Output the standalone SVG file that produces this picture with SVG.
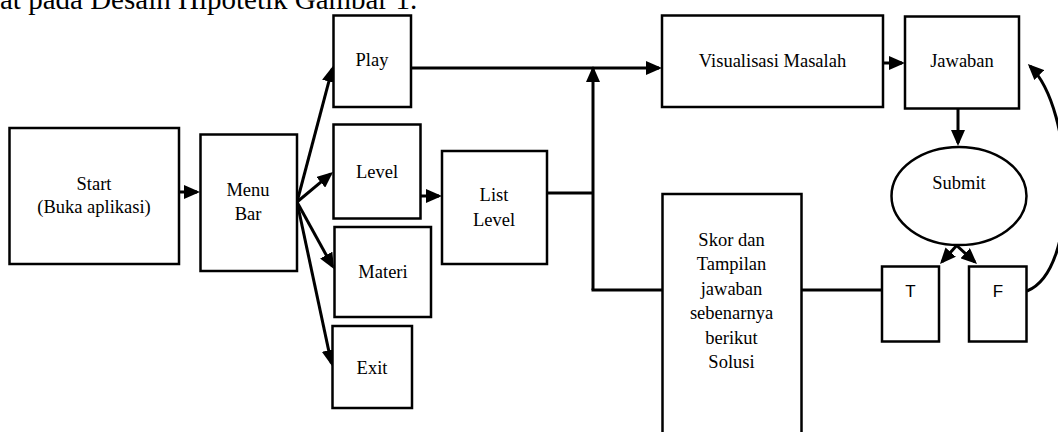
<svg xmlns="http://www.w3.org/2000/svg" width="1058" height="432" viewBox="0 0 1058 432">
<style>
.box{fill:#fff;stroke:#000;stroke-width:2.5}
.t{font-family:"Liberation Serif","Times New Roman",serif;font-size:18.5px;fill:#000;text-anchor:middle}
.s{font-family:"Liberation Sans",Arial,sans-serif;font-size:17px;fill:#000;text-anchor:middle}
.c{fill:none;stroke:#000;stroke-width:3}
.a{fill:none;stroke:#000;stroke-width:3;marker-end:url(#ah)}
</style>
<defs>
<marker id="ah" markerWidth="16" markerHeight="14" refX="13" refY="7" orient="auto" markerUnits="userSpaceOnUse"><path d="M0,0 L16,7 L0,14 z" fill="#000"/></marker>
</defs>
<rect width="1058" height="432" fill="#fff"/>
<text x="0" y="9" style="font-family:'Liberation Serif','Times New Roman',serif;font-size:29px;fill:#000">at pada Desain Hipotetik Gambar 1.</text>

<g id="connectors">
<path class="a" d="M179,192 L197,192"/>
<path class="a" d="M297,202 L332.2,68.9"/>
<path class="a" d="M297,202 L330.7,173.9"/>
<path class="a" d="M297,202 L332.5,266.4"/>
<path class="a" d="M297,202 L331.4,363.1"/>
<path class="a" d="M421,196 L439,196"/>
<path class="c" d="M547,193 H593"/>
<path class="a" d="M593,290 L593,69"/>
<path class="c" d="M591.5,290 H662"/>
<path class="a" d="M411,68 L659,68"/>
<path class="a" d="M883,63 L902,63"/>
<path class="a" d="M958,109 L958,143"/>
<path class="c" d="M802,290 H882"/>
<path class="a" d="M958,244 L942,261.8"/>
<path class="a" d="M955,244 L974.8,262"/>
<path class="a" d="M1027,291 C1080,270 1075,110 1030,66"/>
</g>

<g id="start"><rect class="box" x="9.5" y="128" width="169.5" height="136"/><text class="t" x="94" y="190">Start</text><text class="t" x="94" y="213">(Buka aplikasi)</text></g>
<g id="menubar"><rect class="box" x="200.5" y="134.5" width="96.5" height="136.5"/><text class="t" x="248" y="196">Menu</text><text class="t" x="248" y="220">Bar</text></g>
<g id="play"><rect class="box" x="333.5" y="15.5" width="77.5" height="91.5"/><text class="t" x="372" y="65.5">Play</text></g>
<g id="level"><rect class="box" x="333.5" y="124.5" width="87" height="94"/><text class="t" x="377" y="178">Level</text></g>
<g id="materi"><rect class="box" x="334.5" y="227" width="96.5" height="90"/><text class="t" x="383" y="278">Materi</text></g>
<g id="exit"><rect class="box" x="332.5" y="326" width="79.5" height="82"/><text class="t" x="372" y="374">Exit</text></g>
<g id="listlevel"><rect class="box" x="442" y="151" width="105" height="113"/><text class="t" x="494" y="200.5">List</text><text class="t" x="494" y="225.5">Level</text></g>
<g id="visualisasi"><rect class="box" x="662" y="15.5" width="221" height="91.5"/><text class="t" x="772.5" y="67">Visualisasi Masalah</text></g>
<g id="jawaban"><rect class="box" x="905" y="16.5" width="114" height="92"/><text class="t" x="962" y="67">Jawaban</text></g>
<g id="submit"><ellipse class="box" cx="959" cy="196" rx="67.5" ry="49"/><text class="t" x="959" y="188.5">Submit</text></g>
<g id="skor"><rect class="box" x="662.5" y="194" width="139" height="250"/>
<text class="t" x="731.5" y="245.7">Skor dan</text>
<text class="t" x="731.5" y="270.2">Tampilan</text>
<text class="t" x="731.5" y="294.7">jawaban</text>
<text class="t" x="731.5" y="319.2">sebenarnya</text>
<text class="t" x="731.5" y="343.7">berikut</text>
<text class="t" x="731.5" y="368.2">Solusi</text></g>
<g id="t"><rect class="box" x="882" y="266.5" width="57" height="75"/><text class="s" x="910.5" y="296.7">T</text></g>
<g id="f"><rect class="box" x="969" y="266.5" width="57.5" height="75"/><text class="s" x="998" y="296.7">F</text></g>
</svg>
